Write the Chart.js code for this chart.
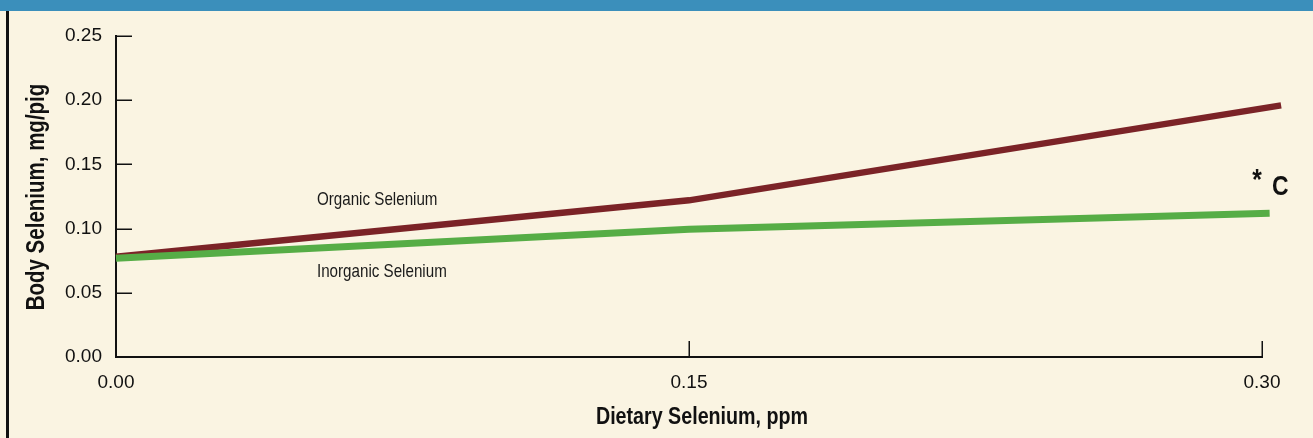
<!DOCTYPE html>
<html>
<head>
<meta charset="utf-8">
<script src="https://cdn.jsdelivr.net/npm/chart.js@4.4.1/dist/chart.umd.min.js"></script>
<style>
  html, body { margin: 0; padding: 0; }
  body { width: 1313px; height: 438px; background: #faf4e2; position: relative; overflow: hidden; }
  #band { position: absolute; left: 0; top: 0; width: 1313px; height: 11px; background: #3b8fbb; }
  #edge { position: absolute; left: 6px; top: 11px; width: 2.5px; height: 427px; background: #111; }
  #chart { position: absolute; left: 0; top: 0; }
</style>
</head>
<body>
<div id="band"></div>
<div id="edge"></div>
<canvas id="chart" width="1313" height="438"></canvas>
<script>
// données
const X_TICKS = [0, 0.15, 0.30];
const Y_TICKS = [0, 0.05, 0.10, 0.15, 0.20, 0.25];

const organicX = [0, 0.15, 0.305];
const organicY = [0.078, 0.122, 0.196];
const inorganicX = [0, 0.15, 0.302];
const inorganicY = [0.077, 0.0995, 0.112];

const LABELS = [
    { text: "Organic Selenium", x: 0.0526, y: 0.1225 },
    { text: "Inorganic Selenium", x: 0.0526, y: 0.066 }
];

const FONT = '"Liberation Sans", Arial, sans-serif';
const SQUEEZE = 0.82;   // pas de police condensée installée : on comprime à la main
const RED = '#7b2327';
const GREEN = '#56ad46';

function toPoints(xs, ys) {
    return xs.map((x, i) => ({ x: x, y: ys[i] }));
}

// texte comprimé horizontalement (effet "condensed")
function narrowText(ctx, text, x, y, font, align, rotate) {
    ctx.save();
    ctx.translate(x, y);
    if (rotate) ctx.rotate(-Math.PI / 2);
    ctx.scale(SQUEEZE, 1);
    ctx.font = font;
    ctx.textAlign = align;
    ctx.textBaseline = 'middle';
    ctx.fillText(text, 0, 0);
    ctx.restore();
}

// petites graduations vers l'intérieur + textes
const decorPlugin = {
    id: 'decor',
    afterDraw(chart) {
        const ctx = chart.ctx;
        const xs = chart.scales.x;
        const ys = chart.scales.y;
        const area = chart.chartArea;
        ctx.save();
        ctx.strokeStyle = '#111';
        ctx.lineWidth = 1.5;
        Y_TICKS.forEach(v => {
            if (v === 0) return;
            const py = Math.round(ys.getPixelForValue(v)) + 0.25;
            ctx.beginPath();
            ctx.moveTo(area.left, py);
            ctx.lineTo(area.left + 16, py);
            ctx.stroke();
        });
        X_TICKS.forEach(v => {
            if (v === 0) return;
            const px = Math.round(xs.getPixelForValue(v)) + 0.25;
            ctx.beginPath();
            ctx.moveTo(px, area.bottom);
            ctx.lineTo(px, area.bottom - 16);
            ctx.stroke();
        });

        ctx.fillStyle = '#1a1a1a';
        LABELS.forEach(l => {
            narrowText(ctx, l.text, xs.getPixelForValue(l.x), ys.getPixelForValue(l.y),
                '18.5px ' + FONT, 'left', false);
        });

        // * C
        ctx.fillStyle = '#111';
        narrowText(ctx, '*', 1257, 181, 'bold 30px ' + FONT, 'center', false);
        narrowText(ctx, 'C', 1272, 187, 'bold 28px ' + FONT, 'left', false);

        // titres des axes
        narrowText(ctx, 'Dietary Selenium, ppm', 702, 417, 'bold 24px ' + FONT, 'center', false);
        narrowText(ctx, 'Body Selenium, mg/pig', 37, 197, 'bold 25px ' + FONT, 'center', true);
        ctx.restore();
    }
};

document.addEventListener("DOMContentLoaded", () => {
    const ctx = document.getElementById("chart").getContext("2d");
    new Chart(ctx, {
        type: 'line',
        data: {
            datasets: [
                {
                    label: 'Inorganic Selenium',
                    data: toPoints(inorganicX, inorganicY),
                    borderColor: GREEN,
                    borderWidth: 7,
                    pointRadius: 0,
                    tension: 0,
                    clip: false
                },
                {
                    label: 'Organic Selenium',
                    data: toPoints(organicX, organicY),
                    borderColor: RED,
                    borderWidth: 6.5,
                    pointRadius: 0,
                    tension: 0,
                    clip: false
                }
            ]
        },
        options: {
            responsive: false,
            animation: false,
            devicePixelRatio: 1,
            layout: { padding: { top: 36, right: 51, left: 0, bottom: 0 } },
            plugins: { legend: { display: false }, tooltip: { enabled: false } },
            scales: {
                x: {
                    type: 'linear',
                    min: 0,
                    max: 0.30,
                    afterBuildTicks: scale => { scale.ticks = X_TICKS.map(v => ({ value: v })); },
                    afterFit: scale => { scale.height = 81; },
                    grid: { display: false, drawTicks: false },
                    border: { display: true, color: '#111', width: 2 },
                    ticks: {
                        padding: 14,
                        color: '#111',
                        font: { family: FONT, size: 19 },
                        maxRotation: 0,
                        callback: v => Number(v).toFixed(2)
                    }
                },
                y: {
                    min: 0,
                    max: 0.25,
                    afterBuildTicks: scale => { scale.ticks = Y_TICKS.map(v => ({ value: v })); },
                    afterFit: scale => { scale.width = 116; },
                    grid: { display: false, drawTicks: false },
                    border: { display: true, color: '#111', width: 2 },
                    ticks: {
                        padding: 14,
                        color: '#111',
                        font: { family: FONT, size: 19 },
                        callback: v => Number(v).toFixed(2)
                    }
                }
            }
        },
        plugins: [decorPlugin]
    });
});
</script>
</body>
</html>
